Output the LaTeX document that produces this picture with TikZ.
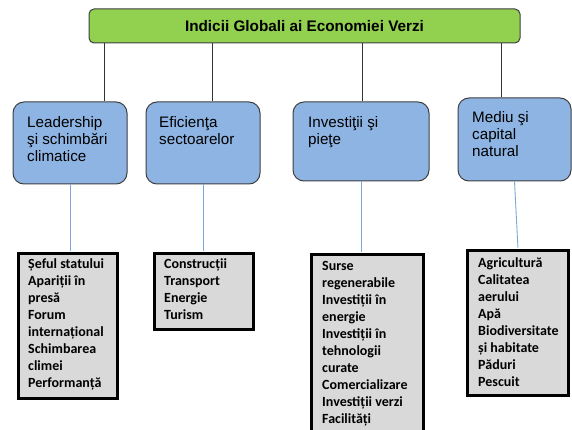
\documentclass[tikz,border=0pt]{standalone}
\usepackage{fontspec}
\setmainfont{Liberation Sans}
\newfontfamily\calib{Carlito}
\definecolor{titlegreen}{HTML}{92D050}
\definecolor{boxblue}{HTML}{8EB4E3}
\definecolor{boxgray}{HTML}{D9D9D9}
\definecolor{linkblue}{HTML}{7FA6D6}
\definecolor{edgegray}{HTML}{3F3F3F}
\begin{document}
\begin{tikzpicture}[x=1pt,y=-1pt,
  titlebox/.style={draw=edgegray, fill=titlegreen, rounded corners=5pt, line width=1pt,
    minimum width=431pt, minimum height=34pt, inner sep=0pt,
    font=\bfseries\fontsize{15.3}{17}\selectfont},
  bluebox/.style={draw=edgegray, fill=boxblue, rounded corners=11pt, line width=1pt, inner sep=0pt},
  graybox/.style={draw=black, fill=boxgray, line width=3pt, inner sep=0pt},
  bluetext/.style={anchor=north west, inner sep=0pt, align=left, font=\fontsize{15.2}{17}\selectfont},
  graytext/.style={anchor=north west, inner sep=0pt, align=left, font=\calib\bfseries\fontsize{14}{17}\selectfont},
  topline/.style={draw=black!80, line width=0.8pt},
  subline/.style={draw=linkblue, line width=0.9pt}]
\clip (0,0) rectangle (572,430);
\fill[white] (0,0) rectangle (572,430);

% title
\node[titlebox] (title) at (304.5,26) {Indicii Globali ai Economiei Verzi};

% blue boxes
\node[bluebox, minimum width=114pt, minimum height=82pt] (b1) at (70,143) {};
\node[bluebox, minimum width=114pt, minimum height=82pt] (b2) at (203,143) {};
\node[bluebox, minimum width=136pt, minimum height=79pt] (b3) at (361,141.5) {};
\node[bluebox, minimum width=113pt, minimum height=83pt] (b4) at (514.5,139.5) {};

\node[bluetext] (t1) at (27,116.2) {Leadership\\şi schimbări\\climatice};
\node[bluetext] (t2) at (159,116.2) {Eficienţa\\sectoarelor};
\node[bluetext] (t3) at (308,116.2) {Investiţii şi\\pieţe};
\node[bluetext] (t4) at (472,111.2) {Mediu şi\\capital\\natural};

% gray boxes
\node[graybox, minimum width=99pt, minimum height=145pt] (g1) at (68,326) {};
\node[graybox, minimum width=99pt, minimum height=76pt] (g2) at (204,291.5) {};
\node[graybox, minimum width=112pt, minimum height=190pt] (g3) at (367.5,349.75) {};
\node[graybox, minimum width=101pt, minimum height=145pt] (g4) at (518,323) {};

\node[graytext] (s1) at (28,258.2) {Șeful statului\\Apariții în\\presă\\Forum\\internațional\\Schimbarea\\climei\\Performanță};
\node[graytext] (s2) at (164,258.2) {Construcții\\Transport\\Energie\\Turism};
\node[graytext] (s3) at (322,261) {Surse\\regenerabile\\Investiții în\\energie\\Investiții în\\tehnologii\\curate\\Comercializare\\Investiții verzi\\Facilități};
\node[graytext] (s4) at (478,257.2) {Agricultură\\Calitatea\\aerului\\Apă\\Biodiversitate\\și habitate\\Păduri\\Pescuit};

% connectors from title
\draw[topline] (title.south -| 104,0) -- (b1.north -| 104,0);
\draw[topline] (title.south -| 212,0) -- (b2.north -| 212,0);
\draw[topline] (title.south -| 362,0) -- (b3.north -| 362,0);
\draw[topline] (title.south -| 501,0) -- (b4.north -| 501,0);

% connectors to gray boxes
\draw[subline, shorten >=1.5pt] (b1.south) -- (b1.south |- g1.north);
\draw[subline, shorten >=1.5pt] (b2.south) -- (b2.south |- g2.north);
\draw[subline, shorten >=1.5pt] (b3.south) -- (b3.south |- g3.north);
\draw[subline, shorten >=1.5pt] (b4.south) -- (g4.north);
\end{tikzpicture}
\end{document}
